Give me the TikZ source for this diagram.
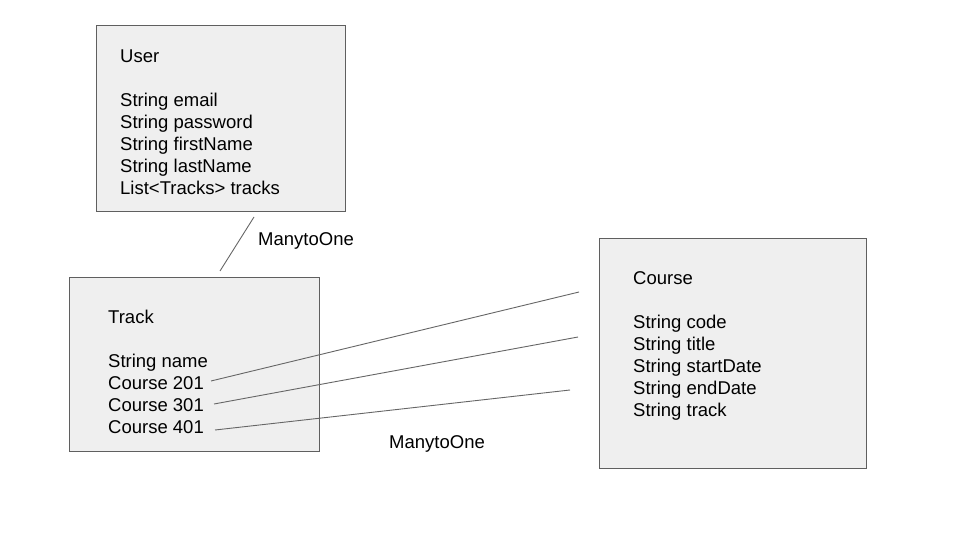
\documentclass[tikz,border=0pt]{standalone}
\usepackage{fontspec}
\setmainfont{Liberation Sans}
\begin{document}
\begin{tikzpicture}[x=1pt,y=-1pt,
  entity/.style={draw=boxline,fill=boxfill,line width=1pt},
  txt/.style={anchor=base west,inner sep=0pt,font=\fontsize{18.5}{22}\selectfont},
  link/.style={draw=linkgray,line width=0.9pt}]
\definecolor{boxfill}{HTML}{EFEFEF}
\definecolor{boxline}{HTML}{5F5F5F}
\definecolor{linkgray}{HTML}{666666}
\useasboundingbox[fill=white] (0,0) rectangle (960,540);
% boxes
\draw[entity] (96,26) rectangle (345,211);
\draw[entity] (69,277) rectangle (319,451);
\draw[entity] (599,238) rectangle (866,468);
% User
\node[txt] (u0) at (120,62.5) {User};
\node[txt] (u1) at (120,106.5) {String email};
\node[txt] (u2) at (120,128.5) {String password};
\node[txt] (u3) at (120,150.5) {String firstName};
\node[txt] (u4) at (120,172.5) {String lastName};
\node[txt] (u5) at (120,194.5) {List<Tracks> tracks};
% Track
\node[txt] (t0) at (108,323) {Track};
\node[txt] (t1) at (108,367) {String name};
\node[txt] (t2) at (108,389) {Course 201};
\node[txt] (t3) at (108,411) {Course 301};
\node[txt] (t4) at (108,433) {Course 401};
% Course
\node[txt] (c0) at (633,284) {Course};
\node[txt] (c1) at (633,328) {String code};
\node[txt] (c2) at (633,350) {String title};
\node[txt] (c3) at (633,372) {String startDate};
\node[txt] (c4) at (633,394) {String endDate};
\node[txt] (c5) at (633,416) {String track};
% labels
\node[txt] (l1) at (258,245.5) {ManytoOne};
\node[txt] (l2) at (389,448.5) {ManytoOne};
% connector end points
\coordinate (ua) at (254,217);
\coordinate (tb) at (220,271);
\coordinate (s1) at (211,381);
\coordinate (e1) at (579,292);
\coordinate (s2) at (214,404);
\coordinate (e2) at (578,337);
\coordinate (s3) at (215,430);
\coordinate (e3) at (570,390);
\draw[link] (ua) -- (tb);
\draw[link] (s1) -- (e1);
\draw[link] (s2) -- (e2);
\draw[link] (s3) -- (e3);
\end{tikzpicture}
\end{document}
